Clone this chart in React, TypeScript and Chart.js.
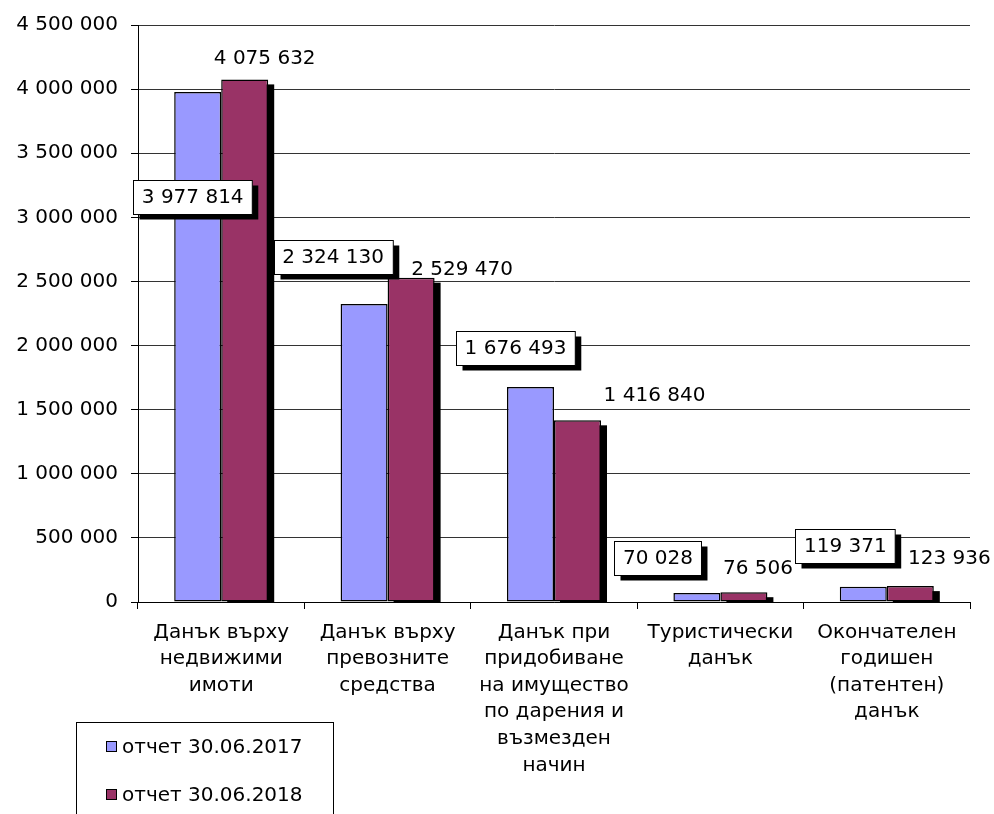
import React, { useEffect, useRef } from "react";
import { Chart, registerables } from "chart.js";

Chart.register(...registerables);

const categories: string[][] = [
  ["Данък върху", "недвижими", "имоти"],
  ["Данък върху", "превозните", "средства"],
  ["Данък при", "придобиване", "на имущество", "по дарения и", "възмезден", "начин"],
  ["Туристически", "данък"],
  ["Окончателен", "годишен", "(патентен)", "данък"],
];
const seriesNames = ["отчет 30.06.2017", "отчет 30.06.2018"];
const values2017 = [3977814, 2324130, 1676493, 70028, 119371];
const values2018 = [4075632, 2529470, 1416840, 76506, 123936];
const yMin = 0;
const yMax = 4500000;
const yStep = 500000;
const seriesColors = ["#9999FF", "#993366"];

// label placement relative to the top-centre of each bar (as moved in the original)
const labelOffsets2017: number[][] = [[-5, 105], [-31, -47], [-15, -39], [-39, -35], [-18, -41]];
const labelOffsets2018: number[][] = [[20, -22], [51, -9], [77, -26], [14, -24], [39, -28]];

const FONT = "'DejaVu Sans', sans-serif";
const SHADOW_DX = 6;
const SHADOW_DY = 5;

const fmt = (v: number) => String(Math.round(v)).replace(/\B(?=(\d{3})+(?!\d))/g, " ");

const shadowPlugin = {
  id: "barShadows",
  beforeDatasetsDraw(chart: any) {
    const ctx = chart.ctx;
    const a = chart.chartArea;
    ctx.save();
    ctx.beginPath();
    ctx.rect(a.left, a.top, a.right - a.left + 20, a.bottom - a.top);
    ctx.clip();
    ctx.fillStyle = "#000";
    const last = chart.data.datasets.length - 1;
    const meta = chart.getDatasetMeta(last);
    meta.data.forEach((el: any) => {
      const p = el.getProps(["x", "y", "base", "width"], true);
      const left = p.x - p.width / 2 + SHADOW_DX;
      const top = Math.min(p.y, p.base) + SHADOW_DY;
      const h = Math.abs(p.base - p.y);
      ctx.fillRect(left, top, p.width, h);
    });
    ctx.restore();
  },
};

const labelPlugin = {
  id: "valueLabels",
  afterDatasetsDraw(chart: any) {
    const ctx = chart.ctx;
    ctx.save();
    ctx.font = `20px ${FONT}`;
    ctx.textAlign = "center";
    ctx.textBaseline = "middle";
    chart.data.datasets.forEach((ds: any, di: number) => {
      const meta = chart.getDatasetMeta(di);
      const offs = di === 0 ? labelOffsets2017 : labelOffsets2018;
      meta.data.forEach((el: any, i: number) => {
        const p = el.getProps(["x", "y"], true);
        const cx = p.x + offs[i][0];
        const cy = p.y + offs[i][1];
        const text = fmt(ds.data[i]);
        if (di === 0) {
          const w = ctx.measureText(text).width + 17;
          const h = 34;
          const bx = Math.round(cx - w / 2) + 0.5;
          const by = Math.round(cy - h / 2) + 0.5;
          ctx.fillStyle = "#000";
          ctx.fillRect(bx + SHADOW_DX, by + SHADOW_DY, w, h);
          ctx.fillStyle = "#fff";
          ctx.fillRect(bx, by, w, h);
          ctx.strokeStyle = "#000";
          ctx.lineWidth = 1;
          ctx.strokeRect(bx, by, w, h);
        }
        ctx.fillStyle = "#000";
        ctx.fillText(text, cx, cy + 1);
      });
    });
    ctx.restore();
  },
};

const legendPlugin = {
  id: "boxLegend",
  afterDraw(chart: any) {
    const ctx = chart.ctx;
    ctx.save();
    ctx.strokeStyle = "#000";
    ctx.lineWidth = 1;
    ctx.strokeRect(76.5, 722.5, 257, 120);
    ctx.font = `20px ${FONT}`;
    ctx.textAlign = "left";
    ctx.textBaseline = "middle";
    chart.data.datasets.forEach((ds: any, di: number) => {
      const cy = 747 + di * 48;
      ctx.fillStyle = ds.backgroundColor;
      ctx.fillRect(106.5, cy - 5.5, 10, 10);
      ctx.strokeStyle = "#000";
      ctx.strokeRect(106.5, cy - 5.5, 10, 10);
      ctx.fillStyle = "#000";
      ctx.fillText(ds.label, 122, cy + 1);
    });
    ctx.restore();
  },
};

export default function App() {
  const ref = useRef<HTMLCanvasElement | null>(null);
  useEffect(() => {
    if (!ref.current) return;
    const chart = new Chart(ref.current, {
      type: "bar",
      data: {
        labels: categories as any,
        datasets: [
          {
            label: seriesNames[0],
            data: values2017,
            backgroundColor: seriesColors[0],
            borderColor: "#000",
            borderWidth: 1.5,
            borderSkipped: false,
            categoryPercentage: 0.565,
            barPercentage: 1,
          },
          {
            label: seriesNames[1],
            data: values2018,
            backgroundColor: seriesColors[1],
            borderColor: "#000",
            borderWidth: 1.5,
            borderSkipped: false,
            categoryPercentage: 0.565,
            barPercentage: 1,
          },
        ],
      },
      options: {
        animation: false,
        responsive: false,
        maintainAspectRatio: false,
        layout: { padding: { top: 25, right: 24, left: 0, bottom: 0 } },
        plugins: {
          legend: { display: false },
          tooltip: { enabled: false },
        },
        scales: {
          x: {
            grid: {
              offset: true,
              drawOnChartArea: false,
              drawTicks: true,
              tickLength: 7,
              tickColor: "#000",
            },
            border: { display: true, color: "#000", width: 1 },
            ticks: {
              autoSkip: false,
              maxRotation: 0,
              minRotation: 0,
              padding: 10,
              color: "#000",
              font: { family: FONT, size: 20, lineHeight: 1.33 },
            },
            afterFit(scale: any) {
              scale.height = 212;
            },
          },
          y: {
            min: yMin,
            max: yMax,
            ticks: {
              stepSize: yStep,
              padding: 13,
              color: "#000",
              font: { family: FONT, size: 20 },
              callback: (v: any) => fmt(Number(v)),
            },
            grid: {
              color: "#333",
              lineWidth: 1,
              tickLength: 7,
              tickColor: "#000",
            },
            border: { display: true, color: "#000", width: 1 },
            afterFit(scale: any) {
              scale.width = 138;
            },
          },
        },
      },
      plugins: [shadowPlugin, labelPlugin, legendPlugin],
    });
    return () => chart.destroy();
  }, []);
  return (
    <div style={{ position: "absolute", left: 0, top: 0, width: 994, height: 814, background: "#fff" }}>
      <canvas ref={ref} width={994} height={814} style={{ width: 994, height: 814, display: "block" }} />
    </div>
  );
}
